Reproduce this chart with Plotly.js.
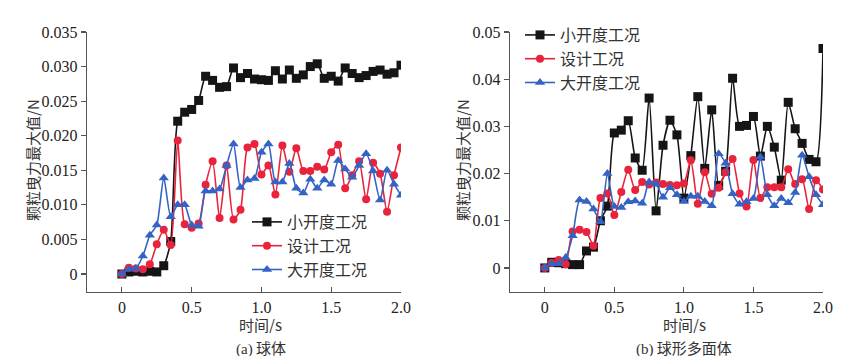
<!DOCTYPE html>
<html>
<head>
<meta charset="utf-8">
<script src="https://cdn.plot.ly/plotly-3.0.1.min.js"></script>
<style>html,body{margin:0;padding:0;background:#fff;}#chart{width:864px;height:357px;}</style>
</head>
<body>
<div id="chart"></div>
<script>
// time (s)
const time = [0,0.05,0.10,0.15,0.20,0.25,0.30,0.35,0.40,0.45,0.50,0.55,0.60,0.65,0.70,0.75,0.80,0.85,0.90,0.95,1.00,
  1.05,1.10,1.15,1.20,1.25,1.30,1.35,1.40,1.45,1.50,1.55,1.60,1.65,1.70,1.75,1.80,1.85,1.90,1.95,2.00];

const seriesNames = ['小开度工况', '设计工况', '大开度工况'];

// (a) 球体
const sphereSmall = [0,0.0003,0.0004,0.0003,0.0004,0.0003,0.0012,0.0047,0.0221,0.0234,0.0238,0.0251,0.0286,0.0280,0.0270,0.0271,0.0298,0.0284,0.0290,0.0282,0.0281,
  0.0280,0.0294,0.0282,0.0295,0.0283,0.0288,0.0300,0.0304,0.0283,0.0286,0.0279,0.0298,0.0290,0.0284,0.0287,0.0293,0.0295,0.0289,0.0291,0.0302];
const sphereDesign = [0,0.0009,0.0008,0.0007,0.0014,0.0043,0.0064,0.0042,0.0193,0.0072,0.0067,0.0073,0.0129,0.0163,0.0081,0.0157,0.0079,0.0093,0.0183,0.0188,0.0144,
  0.0157,0.0115,0.0186,0.0148,0.0182,0.0149,0.0149,0.0155,0.0151,0.0176,0.0187,0.0124,0.0143,0.0163,0.0108,0.0161,0.0145,0.0090,0.0143,0.0183];
const sphereLarge = [0,0.0007,0.0008,0.0026,0.0056,0.0071,0.0139,0.0083,0.0100,0.0100,0.0071,0.0069,0.0120,0.0120,0.0123,0.0157,0.0188,0.0125,0.0136,0.0138,0.0176,
  0.0188,0.0133,0.0133,0.0160,0.0124,0.0117,0.0137,0.0124,0.0136,0.0130,0.0164,0.0152,0.0140,0.0157,0.0174,0.0149,0.0107,0.0150,0.0130,0.0114];

// (b) 球形多面体
const polySmall = [0,0.0012,0.0011,0.0009,0.0007,0.0007,0.0036,0.0044,0.0100,0.0131,0.0286,0.0292,0.0312,0.0233,0.0207,0.0360,0.0121,0.0260,0.0313,0.0282,0.0148,
  0.0238,0.0363,0.0211,0.0335,0.0175,0.0205,0.0402,0.0300,0.0302,0.0321,0.0237,0.0300,0.0256,0.0186,0.0351,0.0295,0.0264,0.0230,0.0225,0.0465];
const polyDesign = [0,0.0011,0.0017,0.0008,0.0077,0.0081,0.0076,0.0047,0.0148,0.0158,0.0112,0.0161,0.0208,0.0165,0.0182,0.0177,0.0181,0.0178,0.0176,0.0175,0.0179,
  0.0228,0.0136,0.0203,0.0157,0.0170,0.0203,0.0231,0.0158,0.0130,0.0229,0.0148,0.0171,0.0171,0.0171,0.0209,0.0178,0.0188,0.0125,0.0186,0.0166];
const polyLarge = [0,0.0009,0.0009,0.0022,0.0068,0.0144,0.0141,0.0125,0.0098,0.0200,0.0130,0.0128,0.0140,0.0142,0.0137,0.0182,0.0178,0.0150,0.0170,0.0155,0.0141,
  0.0152,0.0152,0.0141,0.0132,0.0242,0.0222,0.0157,0.0135,0.0140,0.0147,0.0235,0.0155,0.0132,0.0147,0.0138,0.0160,0.0239,0.0193,0.0155,0.0134];

const xTickVals = [0,0.5,1.0,1.5,2.0];
const xTickText = ['0','0.5','1.0','1.5','2.0'];
const y1TickVals = [0,0.005,0.010,0.015,0.020,0.025,0.030,0.035];
const y1TickText = ['0','0.005','0.010','0.015','0.020','0.025','0.030','0.035'];
const y2TickVals = [0,0.01,0.02,0.03,0.04,0.05];
const y2TickText = ['0','0.01','0.02','0.03','0.04','0.05'];

const colors = ['#151515', '#e8233c', '#3463c4'];
const symbols = ['square', 'circle', 'triangle-up'];
const msize = [9, 8, 9];

function mk(y, i, xa, ya, lg) {
  return {
    x: time, y: y, type: 'scatter', mode: 'lines+markers',
    name: seriesNames[i], xaxis: xa, yaxis: ya, legend: lg,
    line: {color: colors[i], width: 1.6, shape: 'spline', smoothing: 0.6},
    marker: {color: colors[i], symbol: symbols[i], size: msize[i], line: {width: 0}}
  };
}

const data = [
  mk(sphereSmall, 0, 'x', 'y', 'legend'),
  mk(sphereDesign, 1, 'x', 'y', 'legend'),
  mk(sphereLarge, 2, 'x', 'y', 'legend'),
  mk(polySmall, 0, 'x2', 'y2', 'legend2'),
  mk(polyDesign, 1, 'x2', 'y2', 'legend2'),
  mk(polyLarge, 2, 'x2', 'y2', 'legend2')
];

const W = 864, H = 357;
const serif = 'Liberation Serif, Times New Roman, serif';
const cjk = 'Noto Sans CJK SC';
const axCommon = {
  showline: true, linecolor: '#555', linewidth: 1.3, mirror: false,
  showgrid: false, zeroline: false, ticklen: 5, tickwidth: 1.2, tickcolor: '#555',
  tickfont: {family: serif, size: 16, color: '#222'}
};
const xTop = 1 - 292 / H, yTop = 1 - 32 / H;

function note(text, x, y, extra) {
  return Object.assign({text: text, xref: 'paper', yref: 'paper', x: x / W, y: 1 - y / H, showarrow: false,
    font: {family: cjk, size: 15, color: '#333'}, xanchor: 'center', yanchor: 'middle', borderpad: 0}, extra || {});
}

const layout = {
  width: W, height: H,
  margin: {l: 0, r: 0, t: 0, b: 0},
  paper_bgcolor: '#fff', plot_bgcolor: '#fff',
  showlegend: true,
  xaxis: Object.assign({}, axCommon, {domain: [87 / W, 401 / W], range: [-0.25, 2.0], tickvals: xTickVals, ticktext: xTickText, ticks: 'inside', anchor: 'y'}),
  yaxis: Object.assign({}, axCommon, {domain: [xTop, yTop], range: [-0.0026, 0.035], tickvals: y1TickVals, ticktext: y1TickText, ticks: 'outside', anchor: 'x'}),
  xaxis2: Object.assign({}, axCommon, {domain: [510 / W, 823 / W], range: [-0.25, 2.0], tickvals: xTickVals, ticktext: xTickText, ticks: 'inside', anchor: 'y2'}),
  yaxis2: Object.assign({}, axCommon, {domain: [xTop, yTop], range: [-0.0051, 0.05], tickvals: y2TickVals, ticktext: y2TickText, ticks: 'outside', anchor: 'x2'}),
  legend: {x: 247 / W, y: 1 - 205 / H, xanchor: 'left', yanchor: 'top', bgcolor: 'rgba(0,0,0,0)',
    font: {family: cjk, size: 16, color: '#333'}, itemwidth: 30, tracegroupgap: 0},
  legend2: {x: 520 / W, y: 1 - 18 / H, xanchor: 'left', yanchor: 'top', bgcolor: 'rgba(0,0,0,0)',
    font: {family: cjk, size: 16, color: '#333'}, itemwidth: 30, tracegroupgap: 0},
  annotations: [
    note('颗粒曳力最大值/N', 32, 160, {textangle: -90}),
    note('颗粒曳力最大值/N', 462, 160, {textangle: -90}),
    note('时间/s', 260, 324, {height: 17}),
    note('时间/s', 684, 324, {height: 17}),
    note('<span style="font-family:Liberation Serif">(a)</span> 球体', 261, 347, {height: 17}),
    note('<span style="font-family:Liberation Serif">(b)</span> 球形多面体', 684, 347, {height: 17})
  ]
};

Plotly.newPlot('chart', data, layout, {displayModeBar: false, staticPlot: true});
</script>
</body>
</html>
